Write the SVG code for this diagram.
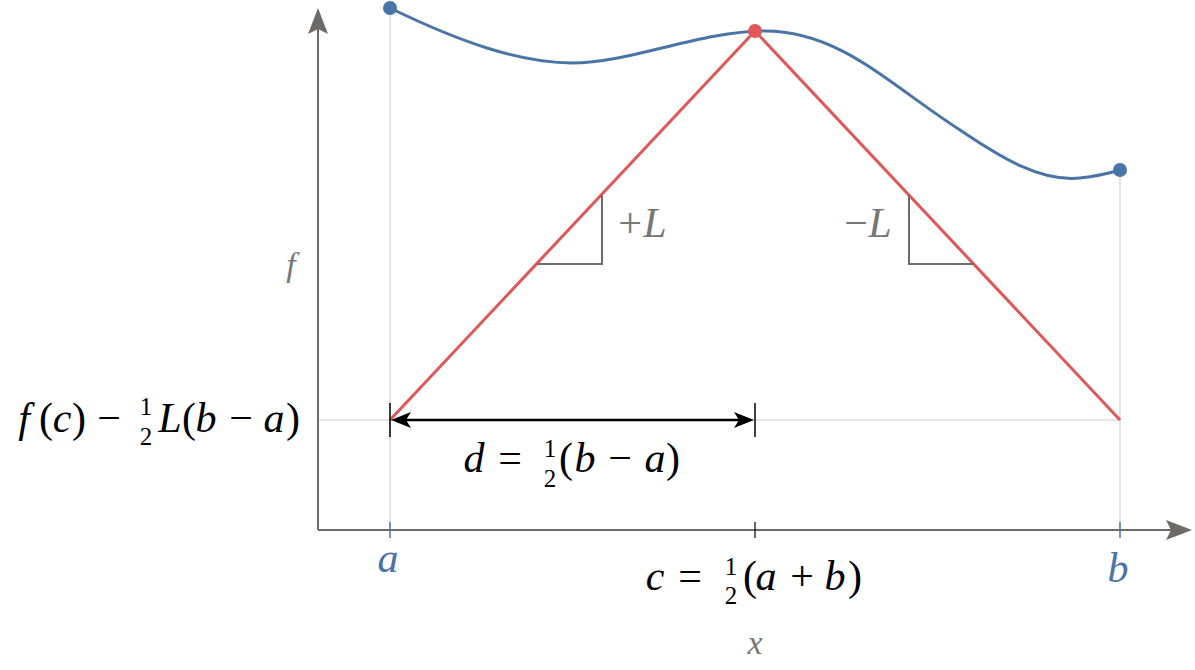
<svg xmlns="http://www.w3.org/2000/svg" width="1195" height="670" viewBox="0 0 1195 670">
<style>
.t{font-family:"Liberation Serif",serif;font-size:42px;fill:#000;text-anchor:middle}
.i{font-style:italic}
.fr{font-family:"Liberation Serif",serif;font-size:25px;fill:#000;text-anchor:middle}
.gray{fill:#777}
.blue{fill:#4a73a6}
.guide{stroke:#dcdcdc;stroke-width:1.5;fill:none}
.axis{stroke:#6e6a6a;stroke-width:2;fill:none}
</style>
<rect width="1195" height="670" fill="#fff"/>
<g id="guides">
<line class="guide" x1="390" y1="8" x2="390" y2="530"/>
<line class="guide" x1="1120" y1="170" x2="1120" y2="530"/>
<line class="guide" x1="318" y1="420" x2="1120" y2="420"/>
</g>
<g id="axes">
<line class="axis" x1="318" y1="530" x2="318" y2="28"/>
<line class="axis" x1="318" y1="530" x2="1175" y2="530"/>
<path d="M318,8 L328,34 L318,29 L308,34 Z" fill="#6e6a6a"/>
<path d="M1192,530 L1166,520 L1171,530 L1166,540 Z" fill="#6e6a6a"/>
<line x1="390" y1="522" x2="390" y2="538" stroke="#4a73a6" stroke-width="1.5"/>
<line x1="755" y1="522" x2="755" y2="538" stroke="#000" stroke-width="1.2"/>
<line x1="1120" y1="522" x2="1120" y2="538" stroke="#4a73a6" stroke-width="1.5"/>
</g>
<g id="connectors">
<path id="curve" d="M390,8 C460,42 520,63 572,63 C630,63 700,31 765,31 C840,31 890,85 960,130 C1000,157 1040,182 1080,178 C1100,176 1110,173 1120,170" fill="none" stroke="#4a73a6" stroke-width="3"/>
<polyline id="tent" points="390,420 755,31 1120,420" fill="none" stroke="#e05757" stroke-width="3" stroke-linejoin="round"/>
<polyline id="slope-plus" points="537,264 602,264 602,195" fill="none" stroke="#6e6a6a" stroke-width="2"/>
<polyline id="slope-minus" points="909,195 909,264 973,264" fill="none" stroke="#6e6a6a" stroke-width="2"/>
<g id="dimension">
<line x1="390" y1="403" x2="390" y2="437" stroke="#000" stroke-width="1.5"/>
<line x1="755" y1="403" x2="755" y2="437" stroke="#000" stroke-width="1.5"/>
<line x1="405" y1="420" x2="740" y2="420" stroke="#000" stroke-width="2.5"/>
<path d="M391,420 L411,412 L406,420 L411,428 Z" fill="#000"/>
<path d="M754,420 L734,412 L739,420 L734,428 Z" fill="#000"/>
</g>
</g>
<g id="points">
<circle cx="390" cy="8" r="7" fill="#4a73a6"/>
<circle cx="1120" cy="170" r="7" fill="#4a73a6"/>
<circle cx="755" cy="31" r="7" fill="#e05757"/>
</g>
<g id="label-plusL">
<text class="t gray" x="630" y="237">+</text>
<text class="t i gray" x="655" y="237">L</text>
</g>
<g id="label-minusL">
<text class="t gray" x="856" y="237">−</text>
<text class="t i gray" x="880" y="237">L</text>
</g>
<g id="label-f"><text class="t i gray" x="291" y="276" style="font-size:34px">f</text></g>
<g id="label-x"><text class="t i gray" x="755" y="654" style="font-size:34px">x</text></g>
<g id="label-a"><text class="t i blue" x="388" y="572">a</text></g>
<g id="label-b"><text class="t i blue" x="1118" y="582">b</text></g>
<g id="label-left">
<text class="t i" x="24" y="432">f</text>
<text class="t" x="46" y="432">(</text>
<text class="t i" x="62" y="432">c</text>
<text class="t" x="79" y="432">)</text>
<text class="t" x="109" y="432">−</text>
<text class="fr" x="146" y="415">1</text>
<text class="fr" x="146" y="445">2</text>
<text class="t i" x="170" y="432">L</text>
<text class="t" x="189" y="432">(</text>
<text class="t i" x="206" y="432">b</text>
<text class="t" x="241" y="432">−</text>
<text class="t i" x="274" y="432">a</text>
<text class="t" x="293" y="432">)</text>
</g>
<g id="label-d">
<text class="t i" x="474" y="472">d</text>
<text class="t" x="510" y="472">=</text>
<text class="fr" x="550" y="457">1</text>
<text class="fr" x="550" y="487">2</text>
<text class="t" x="566" y="472">(</text>
<text class="t i" x="585" y="472">b</text>
<text class="t" x="620" y="472">−</text>
<text class="t i" x="655" y="472">a</text>
<text class="t" x="673" y="472">)</text>
</g>
<g id="label-c">
<text class="t i" x="655" y="590">c</text>
<text class="t" x="690" y="590">=</text>
<text class="fr" x="731" y="575">1</text>
<text class="fr" x="731" y="604">2</text>
<text class="t" x="750" y="590">(</text>
<text class="t i" x="766" y="590">a</text>
<text class="t" x="802" y="590">+</text>
<text class="t i" x="835" y="590">b</text>
<text class="t" x="855" y="590">)</text>
</g>
</svg>
